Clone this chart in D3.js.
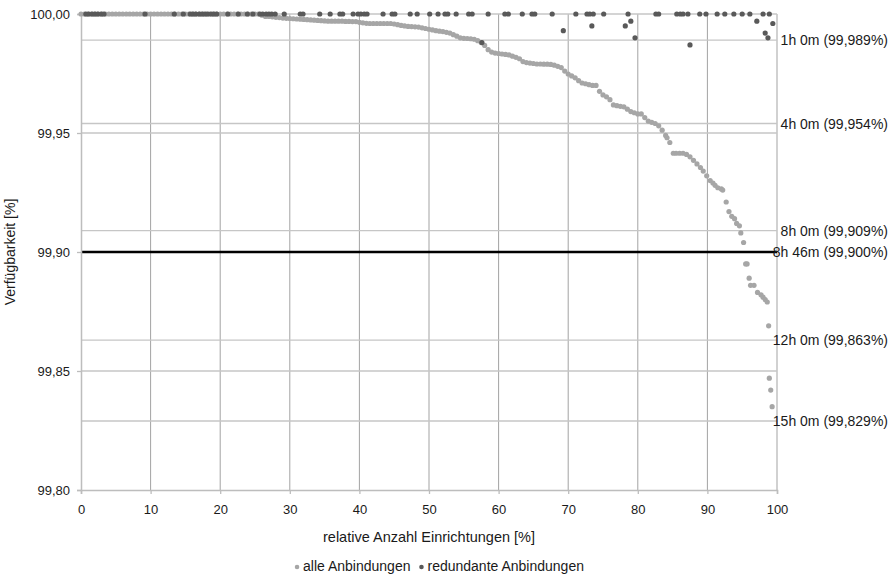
<!DOCTYPE html>
<html>
<head>
<meta charset="utf-8">
<script src="https://cdn.jsdelivr.net/npm/d3@7"></script>
<style>
  body { margin: 0; background: #fff; }
  text { font-family: "Liberation Sans", Arial, sans-serif; fill: #1a1a1a; }
</style>
</head>
<body>
<div id="chart"></div>
<script>
// values
const xTicks = [0, 10, 20, 30, 40, 50, 60, 70, 80, 90, 100];
const yTicks = [99.80, 99.85, 99.90, 99.95, 100.00];
const refValues = [99.989, 99.954, 99.909, 99.900, 99.863, 99.829];
const refLabels = ["1h 0m (99,989%)", "4h 0m (99,954%)", "8h 0m (99,909%)", "8h 46m (99,900%)", "12h 0m (99,863%)", "15h 0m (99,829%)"];
const limitValue = 99.900; // 8h 46m, black line
const seriesNames = ["alle Anbindungen", "redundante Anbindungen"];

// alle Anbindungen: [relative Anzahl %, Verfügbarkeit %]
const alle = [
  [0,100],[0.5,100],[1,100],[1.5,100],[2,100],[2.5,100],[3,100],[3.5,100],[4,100],[4.5,100],
  [5,100],[5.5,100],[6,100],[6.5,100],[7,100],[7.5,100],[8,100],[8.5,100],[9,100],[9.5,100],
  [10,100],[10.5,100],[11,100],[11.5,100],[12,100],[12.5,100],[13,100],[13.5,100],[14,100],[14.5,100],
  [15,100],[15.5,100],[16,100],[16.5,100],[17,100],[17.5,100],[18,100],[18.5,100],[19,100],[19.5,100],
  [20,100],[20.5,100],[21,100],[21.5,100],[22,100],[22.5,100],[23,100],[23.5,100],[24,100],[24.5,100],
  [25,100],[25.5,100],[26,99.9995],[26.5,99.999],[27,99.999],[27.5,99.9988],[28,99.9986],[28.5,99.9985],
  [29,99.9983],[29.5,99.9982],[30,99.9981],[30.5,99.998],[31,99.9979],[31.5,99.9978],[32,99.9977],[32.5,99.9976],
  [33,99.9975],[33.5,99.9974],[34,99.9973],[34.5,99.9972],[35,99.9971],[35.5,99.997],[36,99.997],[36.5,99.997],
  [37,99.997],[37.5,99.997],[38,99.9969],[38.5,99.9969],[39,99.9968],[39.5,99.9968],[40,99.9965],[40.5,99.9963],
  [41,99.9961],[41.5,99.996],[42,99.996],[42.5,99.996],[43,99.996],[43.5,99.996],[44,99.996],[44.5,99.996],
  [45,99.9958],[45.5,99.9955],[46,99.9952],[46.5,99.995],[47,99.9948],[47.5,99.9947],[48,99.9946],[48.5,99.9945],
  [49,99.9942],[49.5,99.9939],[50,99.9936],[50.5,99.9933],[51,99.993],[51.5,99.9928],[52,99.9926],[52.5,99.9923],
  [53,99.992],[53.5,99.9913],[54,99.9907],[54.5,99.990],[55,99.9898],[55.5,99.9897],[56,99.9896],[56.5,99.9894],
  [57,99.9888],[57.5,99.988],[58,99.9868],[58.5,99.985],[59,99.984],[59.5,99.9836],[60,99.9834],[60.5,99.9832],
  [61,99.983],[61.5,99.9828],[62,99.9823],[62.5,99.9818],[63,99.9812],[63.5,99.980],[64,99.9796],[64.5,99.9794],
  [65,99.9792],[65.5,99.979],[66,99.979],[66.5,99.9789],[67,99.9789],[67.5,99.9788],[68,99.9785],[68.5,99.978],
  [69,99.9775],[69.5,99.976],[70,99.9748],[70.5,99.974],[71,99.9732],[71.5,99.972],[72,99.971],[72.5,99.9707],
  [73,99.9703],[73.5,99.970],[74,99.970],[74.5,99.9675],[75,99.966],[75.5,99.9652],[76,99.964],[76.5,99.9618],
  [77,99.9615],[77.5,99.9612],[78,99.961],[78.5,99.960],[79,99.959],[79.5,99.9585],[80,99.958],[80.5,99.958],
  [81,99.9565],[81.5,99.955],[82,99.9545],[82.5,99.954],[83,99.953],[83.5,99.9512],[84,99.949],[84.2,99.948],
  [84.6,99.946],[85.1,99.9415],[85.5,99.9415],[86,99.9415],[86.5,99.9415],[87,99.941],[87.5,99.940],[88,99.9385],
  [88.5,99.937],[89,99.9355],[89.4,99.934],[89.9,99.932],[90.4,99.930],[90.8,99.929],[91.1,99.928],[91.5,99.927],
  [92,99.9265],[92.2,99.926],
  [92.7,99.921],[93.1,99.917],[93.5,99.915],[93.9,99.914],[94.2,99.912],[94.6,99.911],[94.8,99.908],[95.2,99.904],
  [95.5,99.895],[95.7,99.895],[96.0,99.889],[96.2,99.886],[96.7,99.886],[97.2,99.883],[97.7,99.882],[98.0,99.881],
  [98.3,99.880],[98.6,99.879],[98.8,99.869],[98.9,99.847],[99.1,99.842],[99.3,99.835]
];

// redundante Anbindungen
const redundant = [
  [0.7,100],[1.1,100],[1.6,100],[2.0,100],[2.4,100],[2.9,100],[3.3,100],[9.2,100],[13.4,100],[14.7,100],
  [15.7,100],[16.1,100],[16.5,100],[17.0,100],[17.4,100],[17.8,100],[18.2,100],[18.7,100],[19.1,100],[19.5,100],
  [21.1,100],[22.6,100],[23.9,100],[24.7,100],[25.7,100],[26.1,100],[26.6,100],[27.0,100],[27.4,100],[27.9,100],
  [29.2,100],[31.5,100],[31.9,100],[34.3,100],[35.8,100],[37.2,100],[37.6,100],[39.1,100],[39.8,100],[40.2,100],
  [40.7,100],[41.1,100],[43.4,100],[44.7,100],[45.1,100],[47.3,100],[48.3,100],[50.1,100],[51.3,100],[52.3,100],
  [52.7,100],[53.9,100],[55.7,100],[56.2,100],[58.5,100],[60.9,100],[61.4,100],[63.4,100],[64.8,100],[65.2,100],
  [67.7,100],[71.1,100],[72.7,100],[73.1,100],[73.6,100],[75.1,100],[78.6,100],[82.6,100],[83.0,100],[85.6,100],
  [86.1,100],[86.5,100],[87.2,100],[88.9,100],[89.8,100],[91.4,100],[92.5,100],[93.8,100],[95.0,100],[96.1,100],
  [98.0,100],[98.9,100],
  [57.6,99.988],[69.3,99.993],[73.4,99.995],[78.2,99.995],[79.0,99.997],[79.6,99.990],[87.5,99.987],
  [97.1,99.997],[98.3,99.992],[98.7,99.990],[99.4,99.996]
];

const width = 893, height = 575;
const margin = { top: 14, right: 116, bottom: 85, left: 81 };
const w = width - margin.left - margin.right;
const h = height - margin.top - margin.bottom;

const de = d3.formatLocale({ decimal: ",", thousands: ".", grouping: [3], currency: ["", " €"] });
const fmt = de.format(".2f");

const svg = d3.select("#chart").append("svg")
  .attr("width", width)
  .attr("height", height);
svg.append("rect").attr("width", width).attr("height", height).attr("fill", "#fff");

const g = svg.append("g").attr("transform", `translate(${margin.left},${margin.top})`);

const x = d3.scaleLinear().domain([0, 100]).range([0, w]);
const y = d3.scaleLinear().domain([99.8, 100]).range([h, 0]);

// vertical grid
g.selectAll(".vgrid").data(xTicks.filter(d => d > 0)).enter().append("line")
  .attr("x1", d => x(d)).attr("x2", d => x(d))
  .attr("y1", 0).attr("y2", h)
  .attr("stroke", "#a3a3a3").attr("stroke-width", 1);

// horizontal grid
g.selectAll(".hgrid").data(yTicks.filter(d => d > 99.8)).enter().append("line")
  .attr("x1", 0).attr("x2", w)
  .attr("y1", d => y(d)).attr("y2", d => y(d))
  .attr("stroke", "#c6c6c6").attr("stroke-width", 1.3);

// reference lines for downtime
g.selectAll(".ref").data(refValues).enter().append("line")
  .attr("x1", 0).attr("x2", w)
  .attr("y1", d => y(d)).attr("y2", d => y(d))
  .attr("stroke", d => d === limitValue ? "#000" : "#c6c6c6")
  .attr("stroke-width", d => d === limitValue ? 2.5 : 1.3);

g.selectAll(".refLabel").data(refValues).enter().append("text")
  .attr("x", w + 111)
  .attr("y", d => y(d))
  .attr("dy", "0.36em")
  .attr("text-anchor", "end")
  .style("font-size", "14px")
  .text((d, i) => refLabels[i]);

// axes
const yAxis = g.append("g")
  .call(d3.axisLeft(y).tickValues(yTicks).tickFormat(fmt).tickSize(4).tickPadding(7));
const xAxis = g.append("g").attr("transform", `translate(0,${h})`)
  .call(d3.axisBottom(x).tickValues(xTicks).tickSize(4).tickPadding(11));

[yAxis, xAxis].forEach(a => {
  a.select(".domain").attr("stroke", "#bdbdbd").attr("stroke-width", 1.5);
  a.selectAll(".tick line").attr("stroke", "#bdbdbd").attr("stroke-width", 1.3);
  a.selectAll(".tick text").style("font-size", "13px").attr("fill", "#1a1a1a")
    .style("font-family", '"Liberation Sans", Arial, sans-serif');
});

// series
g.append("g").selectAll("circle").data(alle).enter().append("circle")
  .attr("cx", d => x(d[0])).attr("cy", d => y(d[1]))
  .attr("r", 2.6).attr("fill", "#a6a6a6");

g.append("g").selectAll("circle").data(redundant).enter().append("circle")
  .attr("cx", d => x(d[0])).attr("cy", d => y(d[1]))
  .attr("r", 2.6).attr("fill", "#595959");

// axis titles
svg.append("text")
  .attr("transform", `translate(15,${margin.top + h / 2}) rotate(-90)`)
  .attr("text-anchor", "middle")
  .style("font-size", "14px")
  .text("Verfügbarkeit [%]");

svg.append("text")
  .attr("x", margin.left + w / 2).attr("y", 542)
  .attr("text-anchor", "middle")
  .style("font-size", "14.5px")
  .text("relative Anzahl Einrichtungen [%]");

// legend
const legend = svg.append("g");
const colors = ["#a6a6a6", "#595959"];
let lx = 0;
seriesNames.forEach((name, i) => {
  const item = legend.append("g").attr("transform", `translate(${lx},0)`);
  item.append("circle").attr("cx", 3).attr("cy", -4).attr("r", 2.3).attr("fill", colors[i]);
  const t = item.append("text").attr("x", 9).attr("y", 0).style("font-size", "14px").text(name);
  lx += 9 + t.node().getComputedTextLength() + 8;
});
legend.attr("transform", `translate(${443 - lx / 2},571)`);
</script>
</body>
</html>
